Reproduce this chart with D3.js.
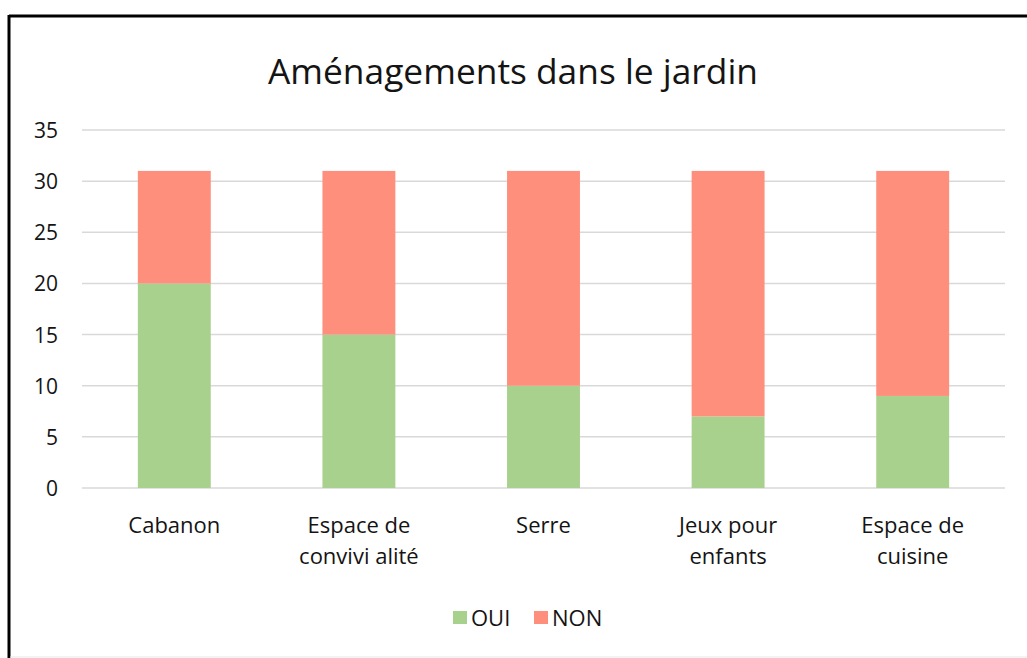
<!DOCTYPE html>
<html><head><meta charset="utf-8">
<script src="https://cdn.jsdelivr.net/npm/d3@7"></script>
<style>
html,body{margin:0;padding:0;background:#fff;}
svg{display:block;}
text{font-family:"Open Sans","Lato",sans-serif;fill:#141414;}
</style></head>
<body>
<script>
const categories = [["Cabanon"], ["Espace de", "convivi alité"], ["Serre"], ["Jeux pour", "enfants"], ["Espace de", "cuisine"]];
const categoryKeys = ["Cabanon", "Espace de convivialité", "Serre", "Jeux pour enfants", "Espace de cuisine"];
const oui = [20, 15, 10, 7, 9];
const non = [11, 16, 21, 24, 22];
const seriesNames = ["OUI", "NON"];
const seriesColors = ["#a9d18e", "#fe8f7d"];
const yTicks = [0, 5, 10, 15, 20, 25, 30, 35];
const title = "Aménagements dans le jardin";

const W = 1027, H = 658;
const svg = d3.select("body").append("svg").attr("width", W).attr("height", H);

// frame
svg.append("line").attr("x1", 9).attr("x2", W).attr("y1", 16).attr("y2", 16).attr("stroke", "#000").attr("stroke-width", 3);
svg.append("line").attr("x1", 9).attr("x2", 9).attr("y1", 15).attr("y2", H).attr("stroke", "#000").attr("stroke-width", 3);
svg.append("line").attr("x1", 10).attr("x2", W).attr("y1", 657).attr("y2", 657).attr("stroke", "#e6e6e6").attr("stroke-width", 1);

svg.append("text").attr("x", 513).attr("y", 84).attr("text-anchor", "middle")
  .attr("font-size", 34).attr("textLength", 490).attr("lengthAdjust", "spacingAndGlyphs")
  .text(title);

const x = d3.scaleBand().domain(categoryKeys).range([82, 1005]).paddingInner(0.605).paddingOuter(0.3025);
const y = d3.scaleLinear().domain([0, 35]).range([488, 130]);

// grid
svg.append("g").selectAll("line").data(yTicks).join("line")
  .attr("x1", 82).attr("x2", 1005)
  .attr("y1", d => y(d)).attr("y2", d => y(d))
  .attr("stroke", "#d9d9d9").attr("stroke-width", 1.5);

// y labels
svg.append("g").selectAll("text").data(yTicks).join("text")
  .attr("x", 58).attr("y", d => y(d) + 8).attr("text-anchor", "end")
  .attr("font-size", 21).text(d => d);

// stacked bars
const rows = categoryKeys.map((k, i) => ({key: k, OUI: oui[i], NON: non[i]}));
const stack = d3.stack().keys(seriesNames)(rows);
svg.append("g").selectAll("g").data(stack).join("g")
  .attr("fill", (d, i) => seriesColors[i])
  .selectAll("rect").data(d => d).join("rect")
  .attr("x", d => x(d.data.key)).attr("width", x.bandwidth())
  .attr("y", d => y(d[1])).attr("height", d => y(d[0]) - y(d[1]));

// x labels
const xl = svg.append("g").selectAll("text").data(categoryKeys).join("text")
  .attr("text-anchor", "middle").attr("font-size", 22)
  .attr("x", d => x(d) + x.bandwidth() / 2).attr("y", 533);
xl.each(function(d, i) {
  const t = d3.select(this);
  categories[i].forEach((line, j) => {
    t.append("tspan").attr("x", x(d) + x.bandwidth() / 2).attr("dy", j === 0 ? 0 : 31).text(line);
  });
});

// legend
const legendItems = [{name: "OUI", c: seriesColors[0], x: 453}, {name: "NON", c: seriesColors[1], x: 534}];
const lg = svg.append("g");
legendItems.forEach(it => {
  lg.append("rect").attr("x", it.x).attr("y", 611).attr("width", 14).attr("height", 13).attr("fill", it.c);
  lg.append("text").attr("x", it.x + 18).attr("y", 626).attr("font-size", 22).text(it.name);
});
</script>
</body></html>
